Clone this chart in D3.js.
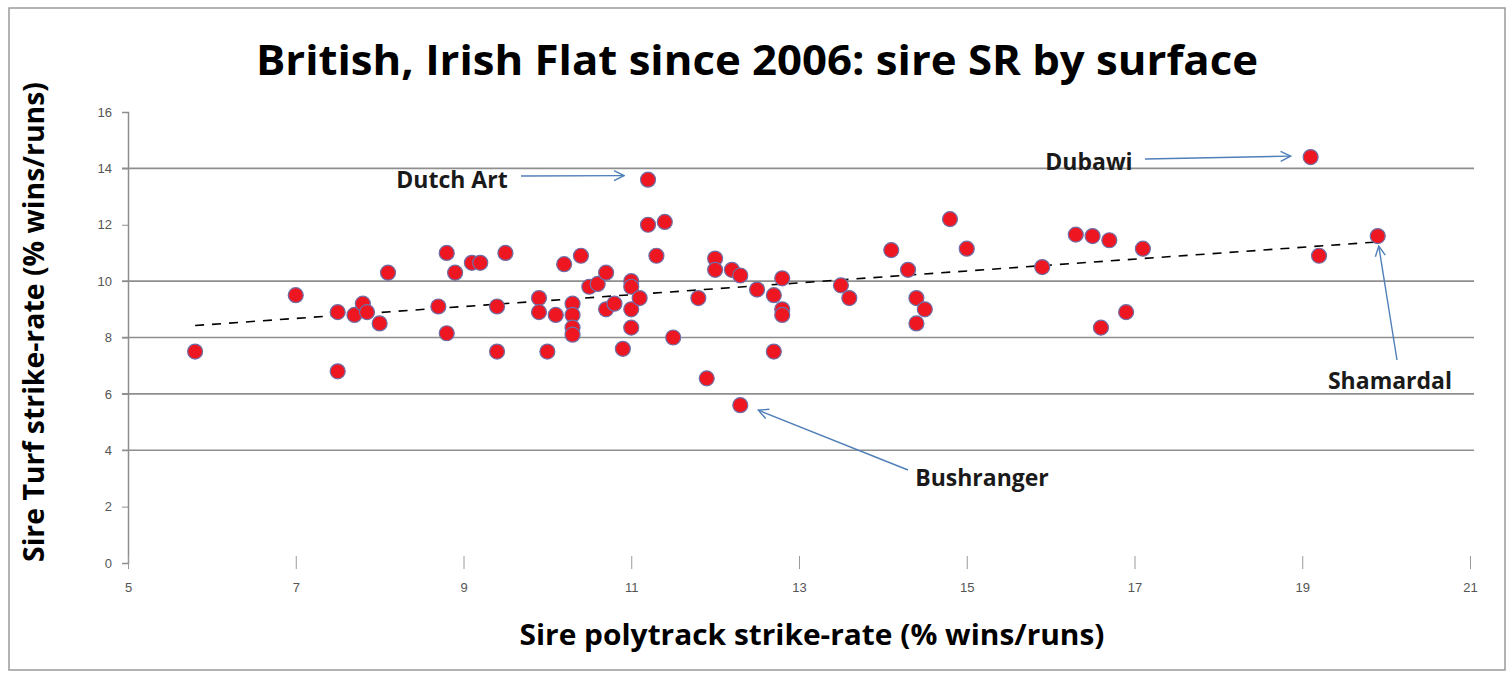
<!DOCTYPE html>
<html>
<head>
<meta charset="utf-8">
<script src="https://cdn.jsdelivr.net/npm/d3@7"></script>
<style>
  body { margin: 0; background: #fff; }
  svg { display: block; }
  text { font-family: "Open Sans", "DejaVu Sans", sans-serif; }
</style>
</head>
<body>
<div id="chart"></div>
<script>
// sire strike-rates: polytrack (x) vs turf (y), % wins/runs
var polySR = [
    5.8, 7.0, 7.5, 7.5, 7.7, 7.8, 7.85, 8.0, 8.1, 8.7,
    8.8, 8.8, 8.9, 9.1, 9.2, 9.4, 9.4, 9.5, 9.9, 9.9,
    10.0, 10.1, 10.2, 10.3, 10.3, 10.3, 10.3, 10.4, 10.5, 10.6,
    10.7, 10.7, 10.8, 10.9, 11.0, 11.0, 11.0, 11.0, 11.1, 11.2,
    11.2, 11.3, 11.4, 11.5, 11.8, 11.9, 12.0, 12.0, 12.2, 12.3,
    12.3, 12.5, 12.7, 12.7, 12.8, 12.8, 12.8, 13.5, 13.6, 14.1,
    14.3, 14.4, 14.4, 14.5, 14.8, 15.0, 15.9, 16.3, 16.5, 16.7,
    16.6, 16.9, 17.1, 19.1, 19.2, 19.9
];
var turfSR = [
    7.5, 9.5, 8.9, 6.8, 8.8, 9.2, 8.9, 8.5, 10.3, 9.1,
    11.0, 8.15, 10.3, 10.65, 10.65, 9.1, 7.5, 11.0, 9.4, 8.9,
    7.5, 8.8, 10.6, 9.2, 8.8, 8.35, 8.1, 10.9, 9.8, 9.9,
    10.3, 9.0, 9.2, 7.6, 10.0, 9.8, 9.0, 8.35, 9.4, 13.6,
    12.0, 10.9, 12.1, 8.0, 9.4, 6.55, 10.8, 10.4, 10.4, 10.2,
    5.6, 9.7, 9.5, 7.5, 10.1, 9.0, 8.8, 9.85, 9.4, 11.1,
    10.4, 9.4, 8.5, 9.0, 12.2, 11.15, 10.5, 11.65, 11.6, 11.45,
    8.35, 8.9, 11.15, 14.4, 10.9, 11.6
];
var xTicks = [5, 7, 9, 11, 13, 15, 17, 19, 21];
var yTicks = [0, 2, 4, 6, 8, 10, 12, 14, 16];
var gridValues = [4, 6, 8, 10, 14];
var callouts = [
    {name: 'Dutch Art', sireX: 11.2, sireY: 13.6},
    {name: 'Dubawi', sireX: 19.1, sireY: 14.4},
    {name: 'Shamardal', sireX: 19.9, sireY: 11.6},
    {name: 'Bushranger', sireX: 12.3, sireY: 5.6}
];

var width = 1510, height = 673;
var svg = d3.select('#chart').append('svg')
    .attr('width', width)
    .attr('height', height);

var x = d3.scaleLinear().domain([5, 21]).range([128, 1470]);
var y = d3.scaleLinear().domain([0, 16]).range([563, 112]);

// outer frame
svg.append('rect')
    .attr('x', 9).attr('y', 8)
    .attr('width', 1496).attr('height', 662)
    .attr('fill', 'none')
    .attr('stroke', '#9a9a9a')
    .attr('stroke-width', 1.5);

svg.append('defs').append('marker')
    .attr('id', 'arrowhead')
    .attr('viewBox', '0 0 12 12')
    .attr('refX', 11).attr('refY', 6)
    .attr('markerWidth', 12).attr('markerHeight', 12)
    .attr('markerUnits', 'userSpaceOnUse')
    .attr('orient', 'auto')
    .append('path')
    .attr('d', 'M1,1 L11,6 L1,11')
    .attr('fill', 'none')
    .attr('stroke', '#4f7fb8')
    .attr('stroke-width', 1.4);

// gridlines
svg.append('g').selectAll('line')
    .data(gridValues)
    .enter().append('line')
    .attr('x1', 122).attr('x2', 1474)
    .attr('y1', d => y(d)).attr('y2', d => y(d))
    .attr('stroke', '#8e8e8e')
    .attr('stroke-width', 1.6);

// y axis
var yAxis = svg.append('g')
    .attr('transform', 'translate(128,0)')
    .call(d3.axisLeft(y).tickValues(yTicks).tickSize(6).tickFormat(d3.format('d')));
yAxis.select('.domain').attr('stroke', '#8e8e8e').attr('stroke-width', 1.5);
yAxis.selectAll('.tick line').attr('stroke', '#8e8e8e');
yAxis.selectAll('.tick text')
    .attr('x', -16)
    .style('font-size', '13px')
    .style('fill', '#555')
    .style('font-family', '"Liberation Sans", sans-serif');

// x axis (tick marks only)
var xAxis = svg.append('g')
    .attr('transform', 'translate(0,556)')
    .call(d3.axisBottom(x).tickValues(xTicks).tickSize(13).tickFormat(d3.format('d')));
xAxis.select('.domain').remove();
xAxis.selectAll('.tick line').attr('stroke', '#9a9a9a');
xAxis.selectAll('.tick text')
    .attr('y', 27)
    .style('font-size', '13px')
    .style('fill', '#555')
    .style('font-family', '"Liberation Sans", sans-serif');

// linear trendline from least squares
var pts = polySR.map((d, i) => [d, turfSR[i]]);
var mx = d3.mean(polySR), my = d3.mean(turfSR);
var slope = d3.sum(pts, p => (p[0] - mx) * (p[1] - my)) / d3.sum(pts, p => (p[0] - mx) * (p[0] - mx));
var icpt = my - slope * mx;
var ext = d3.extent(polySR);
svg.append('line')
    .attr('x1', x(ext[0])).attr('y1', y(icpt + slope * ext[0]))
    .attr('x2', x(ext[1])).attr('y2', y(icpt + slope * ext[1]))
    .attr('stroke', '#000')
    .attr('stroke-width', 1.6)
    .attr('stroke-dasharray', '9,8');

// points
svg.append('g').selectAll('circle')
    .data(pts)
    .enter().append('circle')
    .attr('cx', d => x(d[0]))
    .attr('cy', d => y(d[1]))
    .attr('r', 7.5)
    .attr('fill', '#ee1620')
    .attr('stroke', '#6f6fa8')
    .attr('stroke-width', 1.2);

// callouts: text position, arrow tail, arrow tip offset from the point
var labelPos = {
    'Dutch Art': {tx: 452, ty: 188, ax: 521, ay: 176, tip: [-24, -4]},
    'Dubawi': {tx: 1089, ty: 170, ax: 1145, ay: 159, tip: [-20, -1]},
    'Shamardal': {tx: 1390, ty: 389, ax: 1397, ay: 360, tip: [1, 10]},
    'Bushranger': {tx: 982, ty: 486, ax: 908, ay: 470, tip: [18, 5]}
};
callouts.forEach(function(c) {
    var p = labelPos[c.name];
    svg.append('line')
        .attr('x1', p.ax).attr('y1', p.ay)
        .attr('x2', x(c.sireX) + p.tip[0]).attr('y2', y(c.sireY) + p.tip[1])
        .attr('stroke', '#4f7fb8')
        .attr('stroke-width', 1.4)
        .attr('marker-end', 'url(#arrowhead)');
    svg.append('text')
        .attr('x', p.tx).attr('y', p.ty)
        .attr('text-anchor', 'middle')
        .style('font-size', '23px')
        .style('font-weight', 700)
        .style('fill', '#1a1a1a')
        .text(c.name);
});

// titles
svg.append('text')
    .attr('x', 757).attr('y', 75)
    .attr('text-anchor', 'middle')
    .attr('textLength', 1002)
    .attr('lengthAdjust', 'spacingAndGlyphs')
    .style('font-size', '42px')
    .style('font-weight', 700)
    .text('British, Irish Flat since 2006: sire SR by surface');

svg.append('text')
    .attr('x', 812).attr('y', 645)
    .attr('text-anchor', 'middle')
    .attr('textLength', 585)
    .attr('lengthAdjust', 'spacingAndGlyphs')
    .style('font-size', '29px')
    .style('font-weight', 700)
    .text('Sire polytrack strike-rate (% wins/runs)');

svg.append('text')
    .attr('transform', 'translate(44,322) rotate(-90)')
    .attr('text-anchor', 'middle')
    .attr('textLength', 480)
    .attr('lengthAdjust', 'spacingAndGlyphs')
    .style('font-size', '29px')
    .style('font-weight', 700)
    .text('Sire Turf strike-rate (% wins/runs)');
</script>
</body>
</html>
